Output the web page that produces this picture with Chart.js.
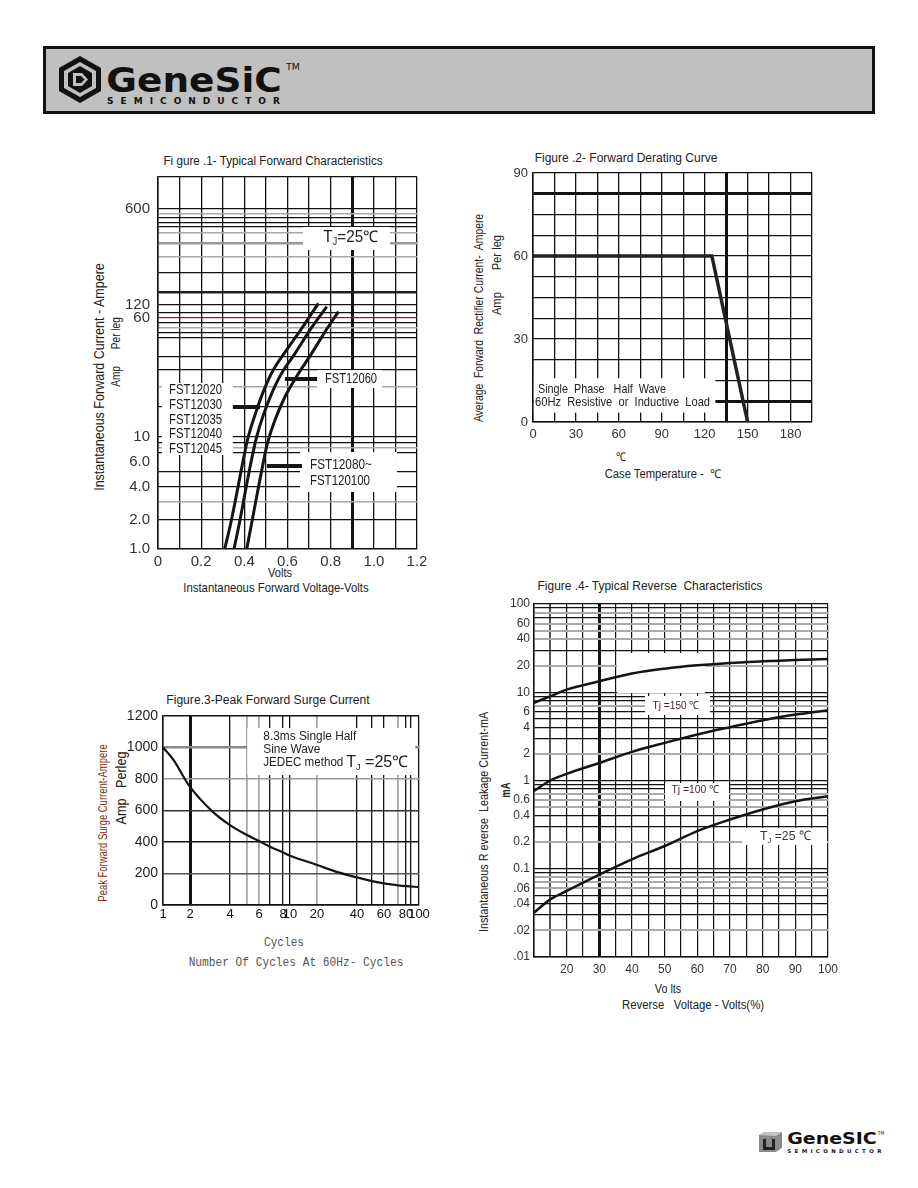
<!DOCTYPE html>
<html>
<head>
<meta charset="utf-8">
<script src="https://cdn.jsdelivr.net/npm/chart.js@4.4.1/dist/chart.umd.min.js"></script>
<style>
  body { margin: 0; background: #fff; width: 918px; height: 1188px; position: relative; overflow: hidden;
         font-family: 'Liberation Sans', Arial, sans-serif; color: #222; }
  .abs { position: absolute; }
  .t { position: absolute; white-space: nowrap; line-height: 1; transform-origin: center center; }
  canvas { position: absolute; }
  .hdr { position: absolute; left: 43px; top: 46px; width: 832px; height: 68px; box-sizing: border-box;
         border: 3px solid #111; background: #c0c0c0; }
  .logo { font-family: 'DejaVu Sans', sans-serif; font-weight: bold; color: #111; }
</style>
</head>
<body>

<div class="hdr"></div>
<svg class="abs" style="left:57px;top:55px" width="46" height="49" viewBox="0 0 46 49">
  <polygon points="23,1 44,13 44,36 23,48 2,36 2,13" fill="#111"/>
  <polygon points="23,7 39,16 39,33 23,42 7,33 7,16" fill="#c0c0c0"/>
  <polygon points="23,11 35,18 35,31 23,38 11,31 11,18" fill="#111"/>
  <path d="M16 18 L25 18 L31 24.5 L25 31 L16 31 Z" fill="#c0c0c0"/>
  <path d="M19 21 L24 21 L27.5 24.5 L24 28 L19 28 Z" fill="#111"/>
</svg>
<div class="t logo" data-x="194" data-y="80" data-w="175" style="font-size:34px">GeneSiC</div>
<div class="t logo" data-x="293" data-y="68" data-w="14" style="font-size:8px;font-weight:normal">TM</div>
<div class="t logo" data-x="197" data-y="101" data-w="180" style="font-size:9px;letter-spacing:7px">SEMICONDUCTOR</div>

<!-- figure titles and axis titles -->
<div class="t" data-x="273" data-y="161" data-w="219" style="font-size:12px">Fi gure .1- Typical Forward Characteristics</div>
<div class="t" data-x="280" data-y="573" data-w="24" style="font-size:12px">Volts</div>
<div class="t" data-x="276" data-y="587" data-w="185" style="font-size:13px">Instantaneous Forward Voltage-Volts</div>
<div class="t" data-x="98" data-y="377" data-w="228" data-r="-90" style="font-size:15px">Instantaneous Forward Current - Ampere</div>
<div class="t" data-x="115" data-y="352" data-w="70" data-r="-90" style="font-size:13px">Amp&nbsp;&nbsp;&nbsp;&nbsp;&nbsp;&nbsp;Per leg</div>

<div class="t" data-x="626" data-y="158" data-w="183" style="font-size:12px">Figure .2- Forward Derating Curve</div>
<div class="t" data-x="621" data-y="457" data-w="10" style="font-size:12px">℃</div>
<div class="t" data-x="663" data-y="474" data-w="117" style="font-size:12px">Case Temperature -&nbsp;&nbsp;℃</div>
<div class="t" data-x="478" data-y="318" data-w="208" data-r="-90" style="font-size:13px">Average&nbsp; Forward&nbsp; Rectifier Current-&nbsp; Ampere</div>
<div class="t" data-x="496" data-y="275" data-w="80" data-r="-90" style="font-size:13px">Amp&nbsp;&nbsp;&nbsp;&nbsp;&nbsp;&nbsp;&nbsp;Per leg</div>

<div class="t" data-x="268" data-y="700" data-w="203" style="font-size:12px">Figure.3-Peak Forward Surge Current</div>
<div class="t" data-x="284" data-y="942" data-w="40" style="font-size:13px;font-family:'Liberation Mono',monospace;color:#555">Cycles</div>
<div class="t" data-x="296" data-y="962" data-w="215" style="font-size:13px;font-family:'Liberation Mono',monospace;color:#555">Number Of Cycles At 60Hz- Cycles</div>
<div class="t" data-x="103" data-y="823" data-w="157" data-r="-90" style="font-size:12px;color:#7b2e16">Peak Forward Surge Current-Ampere</div>
<div class="t" data-x="121" data-y="788" data-w="73" data-r="-90" style="font-size:14px">Amp&nbsp;&nbsp;&nbsp;Perleg</div>

<div class="t" data-x="650" data-y="586" data-w="225" style="font-size:12px">Figure .4- Typical Reverse&nbsp; Characteristics</div>
<div class="t" data-x="668" data-y="989" data-w="26" style="font-size:12px">Vo lts</div>
<div class="t" data-x="693" data-y="1005" data-w="142" style="font-size:12px">Reverse&nbsp;&nbsp;&nbsp;Voltage - Volts(%)</div>
<div class="t" data-x="483" data-y="822" data-w="220" data-r="-90" style="font-size:13px">Instantaneous R everse&nbsp; Leakage Current-mA</div>
<div class="t" data-x="506" data-y="790" data-w="15" data-r="-90" style="font-size:12px;font-weight:bold">mA</div>

<canvas id="fig1" width="345" height="441" style="left:90px;top:159px"></canvas>
<canvas id="fig2" width="370" height="286" style="left:460px;top:159px"></canvas>
<canvas id="fig3" width="345" height="233" style="left:90px;top:702px"></canvas>
<canvas id="fig4" width="375" height="388" style="left:470px;top:592px"></canvas>

<svg class="abs" style="left:757px;top:1131px" width="27" height="22" viewBox="0 0 27 22">
  <polygon points="2,4 8,1 25,1 25,17 19,21 2,21" fill="#8a8a8a"/>
  <polygon points="8,1 25,1 19,5 2,4" fill="#c4c4c4"/>
  <path d="M6 8 L9 8 L9 16 L15 16 L15 8 L18 8 L18 19 L6 19 Z" fill="#222"/>
</svg>
<div class="t logo" data-x="832" data-y="1139" data-w="90" style="font-size:15px">GeneSIC</div>
<div class="t logo" data-x="881" data-y="1133" data-w="6" style="font-size:5px;font-weight:normal">TM</div>
<div class="t logo" data-x="836" data-y="1151" data-w="97" style="font-size:5px;letter-spacing:3px">SEMICONDUCTOR</div>

<script>
// ---- Figure 1: typical forward characteristics (scan has an uneven current axis) ----
const fwdTickAmps = [1, 2, 4, 6, 10, 60, 120, 600];
const fwdTickPos = [0, 29, 62, 87, 112, 231, 244, 340];
const fwdTickLabels = ['1.0', '2.0', '4.0', '6.0', '10', '60', '120', '600'];
const fwdVoltsA = [0.31, 0.337, 0.365, 0.392, 0.418, 0.449, 0.488, 0.534, 0.596, 0.666, 0.743];
const fwdAmpsA = [1.02, 1.85, 3.5, 5.88, 10.0, 13.9, 19.8, 27.4, 37.1, 51.3, 123.4];
const fwdVoltsB = [0.352, 0.377, 0.403, 0.43, 0.457, 0.488, 0.527, 0.573, 0.635, 0.704, 0.782];
const fwdAmpsB = [1.0, 1.85, 3.5, 5.88, 10.0, 13.9, 19.3, 26.1, 35.2, 50.0, 109.5];
const fwdVoltsC = [0.411, 0.434, 0.457, 0.481, 0.507, 0.542, 0.589, 0.646, 0.712, 0.774, 0.836];
const fwdAmpsC = [1.0, 1.85, 3.26, 5.27, 8.79, 12.9, 18.4, 25.4, 35.2, 48.8, 84.0];

// ---- Figure 2: forward derating curve ----
const derateTemp = [0, 125, 150];
const derateAmps = [60, 60, 0];

// ---- Figure 3: peak forward surge current (scan has an uneven cycles axis) ----
const cycleTicks = [1, 2, 4, 5, 6, 7, 8, 10, 20, 40, 50, 60, 70, 80, 90, 100];
const cyclePos = [0, 27, 67, 84, 96, 107, 120, 127, 154, 194, 209, 221, 235, 243, 248, 256];
const cycleLabels = ['1', '2', '4', '', '6', '', '8', '10', '20', '40', '', '60', '', '80', '', '100'];
const surgeCycles = [1, 1.32, 2, 2.93, 4, 5, 6, 7, 8, 10, 20, 29, 40, 50, 60, 70, 80, 100];
const surgeAmps = [1000, 919, 750, 596, 507, 444, 406, 370, 334, 313, 254, 207, 175, 152, 137, 125, 120, 114];

// ---- Figure 4: typical reverse characteristics ----
const revVolts = [10, 15, 20, 30, 40, 50, 60, 70, 80, 90, 100];
const rev150 = [7.6, 9.0, 10.7, 13.3, 16.3, 18.5, 20.2, 21.5, 22.4, 23.2, 23.8];
const rev100 = [0.76, 1.0, 1.19, 1.58, 2.11, 2.67, 3.32, 4.02, 4.82, 5.58, 6.26];
const rev25 = [0.0318, 0.045, 0.056, 0.086, 0.128, 0.181, 0.267, 0.361, 0.47, 0.583, 0.665];
const revTickLabels = { '100': '100', '60': '60', '40': '40', '20': '20', '10': '10', '6': '6', '4': '4', '2': '2',
  '1': '1', '0.6': '0.6', '0.4': '0.4', '0.2': '0.2', '0.1': '0.1', '0.06': '.06', '0.04': '.04', '0.02': '.02', '0.01': '.01' };

const FONT = "'Liberation Sans Narrow','Liberation Sans',Arial,sans-serif";
Chart.defaults.font.family = FONT;
Chart.defaults.animation = false;
Chart.defaults.devicePixelRatio = 1;
Chart.defaults.plugins.legend.display = false;
Chart.defaults.plugins.tooltip.enabled = false;

// place and squeeze html texts to the widths in the scan
document.querySelectorAll('.t').forEach(function (el) {
  const w = el.offsetWidth;
  const k = +el.dataset.w / w;
  const r = +(el.dataset.r || 0);
  el.style.left = el.dataset.x + 'px';
  el.style.top = el.dataset.y + 'px';
  el.style.transform = 'translate(-50%,-50%) rotate(' + r + 'deg) scaleX(' + k + ')';
});

// piecewise log interpolation for the hand-drawn axes
function logPos(v, vals, pos) {
  let i = 0;
  while (i < vals.length - 2 && v > vals[i + 1]) i++;
  const t = Math.log(v / vals[i]) / Math.log(vals[i + 1] / vals[i]);
  return pos[i] + t * (pos[i + 1] - pos[i]);
}

function points(xs, ys, fx, fy) {
  return xs.map(function (x, i) {
    return { x: fx ? fx(x) : x, y: fy ? fy(ys[i]) : ys[i] };
  });
}

function curve(data, width) {
  return {
    data: data, borderColor: '#151515', borderWidth: width, pointRadius: 0,
    tension: 0.35, fill: false
  };
}

// grid list: [value, colour, width]; labels come from a lookup
function tickTable(lines, labelVals, labelText) {
  const m = new Map();
  lines.forEach(function (l) { m.set(l[0], { color: l[1], width: l[2], label: '' }); });
  labelVals.forEach(function (v, i) {
    const t = m.get(v) || { color: 'rgba(0,0,0,0)', width: 0, label: '' };
    t.label = labelText[i];
    m.set(v, t);
  });
  return m;
}

// white boxes, pointer bars and labels inside the plots
function notes(cfg) {
  return {
    id: 'notes',
    beforeDatasetsDraw(chart) {
      const ctx = chart.ctx, sx = chart.scales.x, sy = chart.scales.y;
      ctx.save();
      ctx.fillStyle = '#fff';
      (cfg.boxes || []).forEach(function (b) {
        const x0 = sx.getPixelForValue(b[0]), x1 = sx.getPixelForValue(b[1]);
        const y0 = sy.getPixelForValue(b[2]), y1 = sy.getPixelForValue(b[3]);
        ctx.fillRect(Math.min(x0, x1), Math.min(y0, y1), Math.abs(x1 - x0), Math.abs(y1 - y0));
      });
      ctx.restore();
    },
    afterDatasetsDraw(chart) {
      const ctx = chart.ctx, sx = chart.scales.x, sy = chart.scales.y;
      ctx.save();
      ctx.strokeStyle = '#151515';
      ctx.lineWidth = 4;
      (cfg.bars || []).forEach(function (b) {
        const y = sy.getPixelForValue(b[2]);
        ctx.beginPath();
        ctx.moveTo(sx.getPixelForValue(b[0]), y);
        ctx.lineTo(sx.getPixelForValue(b[1]), y);
        ctx.stroke();
      });
      ctx.textBaseline = 'middle';
      (cfg.labels || []).forEach(function (l) {
        let total = 0;
        l.parts.forEach(function (p) { ctx.font = p[1] + 'px ' + FONT; total += ctx.measureText(p[0]).width; });
        const k = l.w ? l.w / total : 1;
        ctx.save();
        ctx.translate(sx.getPixelForValue(l.x), sy.getPixelForValue(l.y));
        ctx.scale(k, 1);
        ctx.fillStyle = l.color || '#222';
        let x = 0;
        l.parts.forEach(function (p) {
          ctx.font = p[1] + 'px ' + FONT;
          ctx.fillText(p[0], x, p[2] || 0);
          x += ctx.measureText(p[0]).width;
        });
        ctx.restore();
      });
      ctx.restore();
    }
  };
}

function fixSize(w, h) {
  return { y: function (s) { s.width = w; }, x: function (s) { s.height = h; } };
}

// ---------------- Figure 1 ----------------
(function () {
  const ampPos = function (a) { return logPos(a, fwdTickAmps, fwdTickPos); };
  const black = [340, 331, 326, 322, 276, 244, 236, 226, 216, 211, 192, 179, 142, 112, 106, 96, 77, 62, 29, 372];
  const gray = [335, 316, 292, 221, 162, 101, 47];
  const lines = black.map(function (v) { return [v, '#111', 1.3]; })
    .concat(gray.map(function (v) { return [v, '#a8a8a8', 1.6]; }))
    .concat([[306, '#999', 2.6], [257, '#222', 2.4], [231, '#a01818', 1.2]]);
  const table = tickTable(lines, fwdTickPos, fwdTickLabels);
  const size = fixSize(68, 20);
  new Chart(document.getElementById('fig1'), {
    type: 'line',
    data: {
      datasets: [
        curve(points(fwdVoltsA, fwdAmpsA, null, ampPos), 3),
        curve(points(fwdVoltsB, fwdAmpsB, null, ampPos), 3),
        curve(points(fwdVoltsC, fwdAmpsC, null, ampPos), 3)
      ]
    },
    options: {
      responsive: false,
      layout: { padding: { top: 18, right: 18, bottom: 31, left: 0 } },
      scales: {
        x: {
          type: 'linear', min: 0, max: 1.2, afterFit: size.x,
          ticks: {
            stepSize: 0.1, autoSkip: false, maxRotation: 0, padding: 4, color: '#333', font: { size: 15 },
            callback: function (v) { return Math.round(v * 10) % 2 === 0 ? (v === 0 ? '0' : v.toFixed(1)) : ''; }
          },
          grid: {
            drawTicks: false, color: '#111',
            lineWidth: function (c) { return Math.abs(c.tick.value - 0.9) < 1e-6 ? 3 : 1.3; }
          },
          border: { color: '#111', width: 1.5 }
        },
        y: {
          type: 'linear', min: 0, max: 372, afterFit: size.y,
          afterBuildTicks: function (s) { s.ticks = [...table.keys()].sort(function (a, b) { return a - b; }).map(function (v) { return { value: v }; }); },
          ticks: {
            autoSkip: false, padding: 8, color: '#333', font: { size: 15 },
            callback: function (v) { return table.has(v) ? table.get(v).label : ''; }
          },
          grid: {
            drawTicks: false,
            color: function (c) { return table.has(c.tick.value) ? table.get(c.tick.value).color : 'rgba(0,0,0,0)'; },
            lineWidth: function (c) { return table.has(c.tick.value) ? table.get(c.tick.value).width : 0; }
          },
          border: { color: '#111', width: 1.5 }
        }
      }
    },
    plugins: [notes({
      boxes: [[0.672, 1.075, 299, 322], [0.737, 1.038, 161, 179], [0.018, 0.347, 94, 166], [0.658, 1.107, 57, 97]],
      bars: [[0.588, 0.737, 170], [0.347, 0.473, 142], [0.505, 0.667, 83]],
      labels: [
        { x: 0.766, y: 311, w: 55, parts: [['T', 16], ['J', 10, 4], ['=25℃', 16]] },
        { x: 0.774, y: 170, w: 52, parts: [['FST12060', 14]] },
        { x: 0.051, y: 159, w: 53, parts: [['FST12020', 14]] },
        { x: 0.051, y: 144, w: 53, parts: [['FST12030', 14]] },
        { x: 0.051, y: 129, w: 53, parts: [['FST12035', 14]] },
        { x: 0.051, y: 115, w: 53, parts: [['FST12040', 14]] },
        { x: 0.051, y: 100, w: 53, parts: [['FST12045', 14]] },
        { x: 0.704, y: 84, w: 62, parts: [['FST12080~', 14]] },
        { x: 0.704, y: 68, w: 60, parts: [['FST120100', 14]] }
      ]
    })]
  });
})();

// ---------------- Figure 2 ----------------
(function () {
  const size = fixSize(73, 18);
  new Chart(document.getElementById('fig2'), {
    type: 'line',
    data: {
      datasets: [{
        data: points(derateTemp, derateAmps), borderColor: '#222', borderWidth: 3.5,
        pointRadius: 0, tension: 0, fill: false
      }]
    },
    options: {
      responsive: false,
      layout: { padding: { top: 14, right: 18, bottom: 5, left: 0 } },
      scales: {
        x: {
          type: 'linear', min: 0, max: 195, afterFit: size.x,
          ticks: {
            stepSize: 15, autoSkip: false, maxRotation: 0, padding: 5, color: '#333', font: { size: 13 },
            callback: function (v) { return v % 30 === 0 && v <= 180 ? String(v) : ''; }
          },
          grid: {
            drawTicks: false, color: '#111',
            lineWidth: function (c) { return c.tick.value === 135 ? 3 : 1.3; }
          },
          border: { color: '#111', width: 1.5 }
        },
        y: {
          type: 'linear', min: 0, max: 90, afterFit: size.y,
          ticks: {
            stepSize: 7.5, autoSkip: false, padding: 5, color: '#333', font: { size: 13 },
            callback: function (v) { return v % 30 === 0 ? String(v) : ''; }
          },
          grid: {
            drawTicks: false, color: '#111',
            lineWidth: function (c) { return c.tick.value === 82.5 || c.tick.value === 7.5 ? 3 : 1.3; }
          },
          border: { color: '#111', width: 1.5 }
        }
      }
    },
    plugins: [notes({
      boxes: [[0.6, 127.5, 3.4, 15.8]],
      labels: [
        { x: 3.5, y: 11.9, w: 128, parts: [['Single  Phase   Half  Wave', 13]] },
        { x: 1.4, y: 6.9, w: 175, parts: [['60Hz  Resistive  or  Inductive  Load', 13]] }
      ]
    })]
  });
})();

// ---------------- Figure 3 ----------------
(function () {
  const cyclePosOf = function (c) { return logPos(c, cycleTicks, cyclePos); };
  const grayCycles = [5, 6, 20, 70];
  const xTable = new Map();
  cycleTicks.forEach(function (c, i) {
    xTable.set(cyclePos[i], {
      label: cycleLabels[i],
      color: grayCycles.indexOf(c) >= 0 ? '#a8a8a8' : '#111',
      width: c === 2 ? 3 : (grayCycles.indexOf(c) >= 0 ? 1.8 : 1.3)
    });
  });
  const yColors = { 0: '#111', 200: '#555', 400: '#111', 600: '#333', 800: '#999', 1000: '#888', 1200: '#111' };
  const size = fixSize(73, 20);
  new Chart(document.getElementById('fig3'), {
    type: 'line',
    data: { datasets: [curve(points(surgeCycles, surgeAmps, cyclePosOf, null), 2.2)] },
    options: {
      responsive: false,
      layout: { padding: { top: 14, right: 16, bottom: 10, left: 0 } },
      scales: {
        x: {
          type: 'linear', min: 0, max: 256, afterFit: size.x,
          afterBuildTicks: function (s) { s.ticks = cyclePos.map(function (v) { return { value: v }; }); },
          ticks: {
            autoSkip: false, maxRotation: 0, padding: 2, color: '#111', font: { size: 13 },
            callback: function (v) { return xTable.has(v) ? xTable.get(v).label : ''; }
          },
          grid: {
            drawTicks: false,
            color: function (c) { return xTable.has(c.tick.value) ? xTable.get(c.tick.value).color : '#111'; },
            lineWidth: function (c) { return xTable.has(c.tick.value) ? xTable.get(c.tick.value).width : 1.3; }
          },
          border: { color: '#111', width: 1.5 }
        },
        y: {
          type: 'linear', min: 0, max: 1200, afterFit: size.y,
          ticks: {
            stepSize: 200, autoSkip: false, padding: 5, color: '#222', font: { size: 14 },
            callback: function (v) { return String(v); }
          },
          grid: {
            drawTicks: false,
            color: function (c) { return yColors[c.tick.value] || '#111'; },
            lineWidth: function (c) { return c.tick.value === 1000 ? 2.4 : 1.6; }
          },
          border: { color: '#111', width: 1.5 }
        }
      }
    },
    plugins: [notes({
      boxes: [[84.3, 252.3, 825, 1124]],
      labels: [
        { x: 100.3, y: 1067, w: 93, parts: [['8.3ms Single Half', 12]] },
        { x: 100.3, y: 984, w: 57, parts: [['Sine Wave', 12]] },
        { x: 100.3, y: 902, w: 80, parts: [['JEDEC method', 12]] },
        { x: 183.3, y: 902, w: 62, parts: [['T', 16], ['J', 9, 5], [' =25℃', 16]] }
      ]
    })]
  });
})();

// ---------------- Figure 4 ----------------
(function () {
  const grayVals = ['80', '60', '50', '40', '20', '7', '2', '0.7', '0.6', '0.5', '0.2', '0.08', '0.07', '0.06', '0.02'];
  const yTicks = [];
  [0.01, 0.1, 1, 10].forEach(function (d) {
    for (let m = 1; m <= 9; m++) yTicks.push(Number((m * d).toPrecision(4)));
  });
  yTicks.push(100);
  const key = function (v) { return String(Number(v.toPrecision(4))); };
  const size = fixSize(64, 22);
  new Chart(document.getElementById('fig4'), {
    type: 'line',
    data: {
      datasets: [
        curve(points(revVolts, rev150), 2.5),
        curve(points(revVolts, rev100), 2.5),
        curve(points(revVolts, rev25), 2.5)
      ]
    },
    options: {
      responsive: false,
      layout: { padding: { top: 12, right: 17, bottom: 1, left: 0 } },
      scales: {
        x: {
          type: 'linear', min: 10, max: 100, afterFit: size.x,
          ticks: {
            stepSize: 5, autoSkip: false, maxRotation: 0, padding: 5, color: '#333', font: { size: 12 },
            callback: function (v) { return v % 10 === 0 && v >= 20 ? String(v) : ''; }
          },
          grid: {
            drawTicks: false,
            color: function (c) { return c.tick.value === 15 ? '#555' : '#111'; },
            lineWidth: function (c) { return c.tick.value === 30 ? 3 : (c.tick.value === 15 ? 2 : 1.2); }
          },
          border: { color: '#111', width: 1.5 }
        },
        y: {
          type: 'logarithmic', min: 0.01, max: 100, afterFit: size.y,
          afterBuildTicks: function (s) { s.ticks = yTicks.map(function (v) { return { value: v }; }); },
          ticks: {
            autoSkip: false, padding: 4, color: '#333', font: { size: 12 },
            callback: function (v) { return revTickLabels[key(v)] || ''; }
          },
          grid: {
            drawTicks: false,
            color: function (c) { return grayVals.indexOf(key(c.tick.value)) >= 0 ? '#aaa' : '#111'; },
            lineWidth: function (c) { return grayVals.indexOf(key(c.tick.value)) >= 0 ? 2 : 1.2; }
          },
          border: { color: '#111', width: 1.5 }
        }
      }
    },
    plugins: [notes({
      boxes: [[35.4, 62.3, 9.8, 27.9], [44, 63.9, 5.53, 9.07], [50.1, 69.7, 0.586, 0.937], [73.7, 99.7, 0.186, 0.29]],
      labels: [
        { x: 46.3, y: 6.98, w: 47, color: '#4a1f2a', parts: [['Tj =150 ℃', 11]] },
        { x: 52.1, y: 0.78, w: 48, color: '#4a1f2a', parts: [['Tj =100 ℃', 11]] },
        { x: 79.2, y: 0.231, w: 51, color: '#333', parts: [['T', 13], ['J', 8, 4], [' =25 ℃', 13]] }
      ]
    })]
  });
})();
</script>
</body>
</html>
